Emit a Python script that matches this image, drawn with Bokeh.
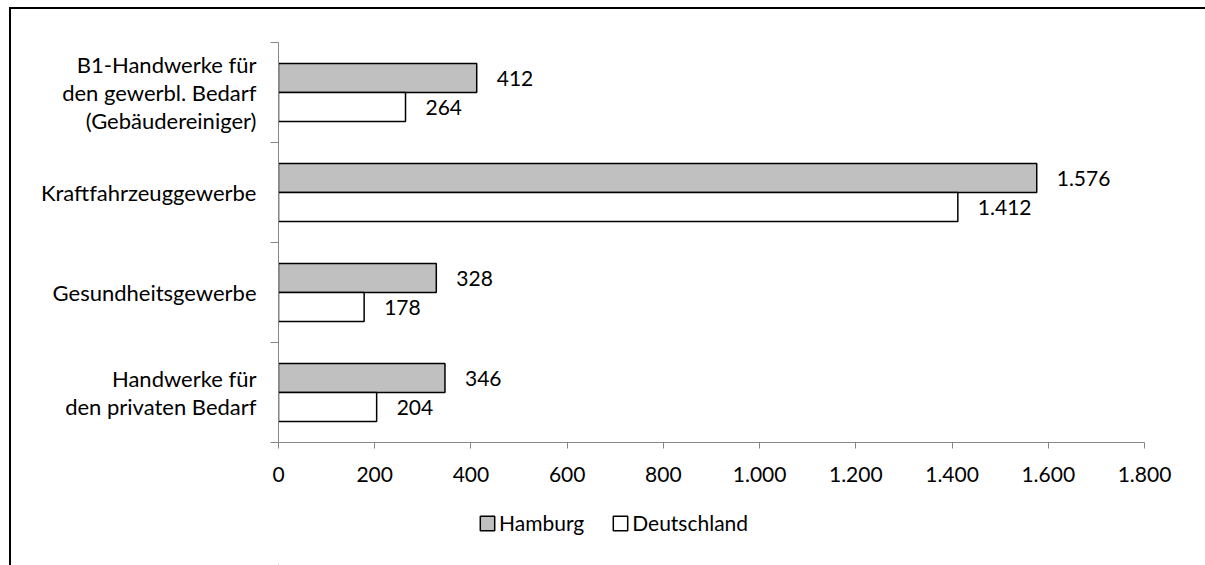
from bokeh.plotting import figure
from bokeh.layouts import column
from bokeh.models import Range1d, FixedTicker, ColumnDataSource, Legend, LegendItem
from bokeh.transform import dodge
from bokeh.core.properties import value
from bokeh.embed import file_html
from bokeh.resources import INLINE

# Categories, top to bottom
categories = [
    "B1-Handwerke für\nden gewerbl. Bedarf\n(Gebäudereiniger)",
    "Kraftfahrzeuggewerbe",
    "Gesundheitsgewerbe",
    "Handwerke für\nden privaten Bedarf",
]
hamburg = [412, 1576, 328, 346]
deutschland = [264, 1412, 178, 204]
series_names = ["Hamburg", "Deutschland"]

x_ticks = [0, 200, 400, 600, 800, 1000, 1200, 1400, 1600, 1800]
x_tick_labels = ["0", "200", "400", "600", "800", "1.000", "1.200", "1.400", "1.600", "1.800"]

FONT = "Lato"
FS = "21px"
CAT_FS = "22px"
TEXT_COLOR = "#000000"
AXIS_COLOR = "#868686"
COLORS = ["#C0C0C0", "#FFFFFF"]

W = 1194
H_CHART = 486
H_LEGEND = 70


def de_number(v):
    return f"{v:,}".replace(",", ".")


n = len(categories)
pos = list(range(n))[::-1]  # first category at the top

src = ColumnDataSource(dict(
    pos=pos,
    hamburg=hamburg,
    deutschland=deutschland,
    h_lbl=[de_number(v) for v in hamburg],
    d_lbl=[de_number(v) for v in deutschland],
))

p = figure(
    width=W, height=H_CHART,
    x_range=Range1d(0, 1800),
    y_range=Range1d(-0.5, n - 0.5),
    output_backend="svg", toolbar_location=None,
    min_border_left=267, min_border_right=61,
    min_border_top=33, min_border_bottom=53,
)
p.outline_line_color = None
p.xgrid.visible = False
p.ygrid.visible = False

BAR_H = 0.29
bar_style = dict(line_color="black", line_width=1.5)
p.hbar(y=dodge("pos", BAR_H / 2), left=0, right="hamburg", height=BAR_H,
       fill_color=COLORS[0], source=src, **bar_style)
p.hbar(y=dodge("pos", -BAR_H / 2), left=0, right="deutschland", height=BAR_H,
       fill_color=COLORS[1], source=src, **bar_style)

# value labels
for yshift, xfield, tfield in [(BAR_H / 2, "hamburg", "h_lbl"), (-BAR_H / 2, "deutschland", "d_lbl")]:
    p.text(x=xfield, y=dodge("pos", yshift), text=tfield, source=src,
           x_offset=20, text_align="left", text_baseline="middle",
           text_font=value(FONT), text_font_size=FS, text_color=TEXT_COLOR)

# x axis
xa = p.xaxis[0]
xa.ticker = FixedTicker(ticks=x_ticks)
xa.major_label_overrides = {t: l for t, l in zip(x_ticks, x_tick_labels)}
xa.axis_line_color = AXIS_COLOR
xa.major_tick_line_color = AXIS_COLOR
xa.major_tick_in = 0
xa.major_tick_out = 6
xa.minor_tick_line_color = None
xa.major_label_text_font = FONT
xa.major_label_text_font_size = FS
xa.major_label_text_color = TEXT_COLOR
xa.major_label_standoff = 18

# y axis: names at the category centres, tick marks on the boundaries
ya = p.yaxis[0]
ya.ticker = FixedTicker(ticks=pos, minor_ticks=[i - 0.5 for i in range(n + 1)])
ya.major_label_overrides = {pv: c for pv, c in zip(pos, categories)}
ya.axis_line_color = AXIS_COLOR
ya.major_tick_line_color = None
ya.major_tick_in = 0
ya.major_tick_out = 0
ya.minor_tick_line_color = AXIS_COLOR
ya.minor_tick_in = 0
ya.minor_tick_out = 8
ya.major_label_standoff = 14
ya.major_label_text_font = FONT
ya.major_label_text_font_size = CAT_FS
ya.major_label_text_color = TEXT_COLOR
ya.major_label_text_line_height = 1.03

# legend strip under the chart; its swatch renderers sit outside the visible ranges
lf = figure(width=W, height=H_LEGEND, x_range=Range1d(0, 1), y_range=Range1d(0, 1),
            output_backend="svg", toolbar_location=None, min_border=0)
lf.axis.visible = False
lf.grid.visible = False
lf.outline_line_color = None
swatches = [lf.hbar(y=[-5], left=[-6], right=[-5], height=0.5, fill_color=c, **bar_style)
            for c in COLORS]

legend = Legend(
    items=[LegendItem(label=name, renderers=[r]) for name, r in zip(series_names, swatches)],
    orientation="horizontal", location=(200, 30),
    glyph_width=18, glyph_height=18, label_standoff=3, spacing=27,
    padding=0, margin=0, border_line_alpha=0, background_fill_alpha=0,
    label_text_font=FONT, label_text_font_size=FS, label_text_color=TEXT_COLOR,
)
lf.add_layout(legend)

page = column(p, lf, spacing=0, margin=(7, 0, 0, 9),
              styles={"border-top": "2px solid #000", "border-left": "2px solid #000"})

open("out.html", "w").write(file_html(page, INLINE))
